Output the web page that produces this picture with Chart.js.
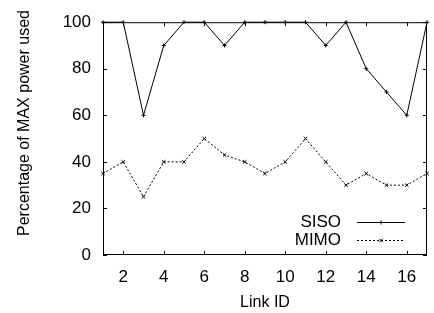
<!DOCTYPE html>
<html>
<head>
<meta charset="utf-8">
<script src="https://cdn.jsdelivr.net/npm/chart.js@4/dist/chart.umd.min.js"></script>
<style>
  html, body { margin: 0; padding: 0; background: #fff; }
  #wrap { width: 434px; height: 313px; }
</style>
</head>
<body>
<div id="wrap"><canvas id="chart" width="434" height="313"></canvas></div>
<script>
// link ids 1..17
const linkIds = [1, 2, 3, 4, 5, 6, 7, 8, 9, 10, 11, 12, 13, 14, 15, 16, 17];
const sisoValues = [100, 100, 60, 90, 100, 100, 90, 100, 100, 100, 100, 90, 100, 80, 70, 60, 100];
const mimoValues = [35, 40, 25, 40, 40, 50, 43, 40, 35, 40, 50, 40, 30, 35, 30, 30, 35];
const xTickLabels = [2, 4, 6, 8, 10, 12, 14, 16];
const yTickLabels = [0, 20, 40, 60, 80, 100];

const FONT = 'Liberation Sans, Arial, sans-serif';

// gnuplot style frame: box + ticks pointing inward on all sides
const frameTicks = {
  id: 'frameTicks',
  afterDraw(chart) {
    const { ctx, chartArea: a, scales: { x, y } } = chart;
    const len = 4;
    ctx.save();
    ctx.strokeStyle = '#000';
    ctx.lineWidth = 1;
    ctx.strokeRect(a.left + 0.5, a.top + 0.5, a.right - a.left - 1, a.bottom - a.top - 1);
    ctx.beginPath();
    xTickLabels.forEach(v => {
      const px = Math.round(x.getPixelForValue(v)) + 0.5;
      ctx.moveTo(px, a.bottom); ctx.lineTo(px, a.bottom - len);
      ctx.moveTo(px, a.top); ctx.lineTo(px, a.top + len);
    });
    yTickLabels.forEach(v => {
      const py = Math.round(y.getPixelForValue(v)) + 0.5;
      ctx.moveTo(a.left, py); ctx.lineTo(a.left + len, py);
      ctx.moveTo(a.right, py); ctx.lineTo(a.right - len, py);
    });
    ctx.stroke();

    // y axis title, sits a bit above the middle of the axis like in gnuplot
    ctx.font = '16px ' + FONT;
    ctx.fillStyle = '#000';
    ctx.textAlign = 'center';
    ctx.textBaseline = 'middle';
    ctx.translate(25, 123);
    ctx.rotate(-Math.PI / 2);
    ctx.fillText('Percentage of MAX power used', 0, 0);
    ctx.restore();
  }
};

// legend in the lower right, text on the left of the sample line
const keyBox = {
  id: 'keyBox',
  afterDraw(chart) {
    const { ctx } = chart;
    const rows = [
      { label: 'SISO', y: 222.5, dash: [], ds: 0 },
      { label: 'MIMO', y: 240.5, dash: [2, 2], ds: 1 }
    ];
    ctx.save();
    ctx.font = '17px ' + FONT;
    ctx.fillStyle = '#000';
    ctx.textAlign = 'right';
    ctx.textBaseline = 'middle';
    rows.forEach(r => {
      ctx.fillText(r.label, 341, r.y);
      ctx.strokeStyle = '#000';
      ctx.lineWidth = 1;
      ctx.setLineDash(r.dash);
      ctx.beginPath();
      ctx.moveTo(357, r.y);
      ctx.lineTo(405, r.y);
      ctx.stroke();
      ctx.setLineDash([]);
      const d = chart.data.datasets[r.ds];
      Chart.helpers.drawPoint(ctx, {
        pointStyle: d.pointStyle, radius: d.pointRadius, borderWidth: 1
      }, 381, r.y);
    });
    ctx.restore();
  }
};

new Chart(document.getElementById('chart'), {
  type: 'line',
  data: {
    labels: linkIds,
    datasets: [
      {
        label: 'SISO',
        data: linkIds.map((id, i) => ({ x: id, y: sisoValues[i] })),
        borderColor: '#000',
        backgroundColor: '#000',
        borderWidth: 1,
        pointStyle: 'cross',
        pointRadius: 2,
        pointBorderWidth: 1,
        tension: 0,
        clip: false
      },
      {
        label: 'MIMO',
        data: linkIds.map((id, i) => ({ x: id, y: mimoValues[i] })),
        borderColor: '#000',
        backgroundColor: '#000',
        borderWidth: 1,
        borderDash: [2, 2],
        pointStyle: 'crossRot',
        pointRadius: 2.5,
        pointBorderWidth: 1,
        tension: 0,
        clip: false
      }
    ]
  },
  options: {
    responsive: false,
    animation: false,
    layout: { padding: { top: 18, right: 7, left: 0, bottom: 0 } },
    plugins: {
      legend: { display: false },
      tooltip: { enabled: false }
    },
    scales: {
      x: {
        type: 'linear',
        min: 1,
        max: 17,
        grid: { display: false, drawTicks: false },
        border: { display: false },
        afterBuildTicks(scale) { scale.ticks = xTickLabels.map(v => ({ value: v })); },
        afterFit(scale) { scale.height = 58; },
        ticks: {
          color: '#000', padding: 12, maxRotation: 0, autoSkip: false,
          font: { family: FONT, size: 17 }
        },
        title: {
          display: true, text: 'Link ID', color: '#000',
          font: { family: FONT, size: 16 }, padding: { top: 0, bottom: 1 }
        }
      },
      y: {
        min: 0,
        max: 100,
        grid: { display: false, drawTicks: false },
        border: { display: false },
        afterBuildTicks(scale) { scale.ticks = yTickLabels.map(v => ({ value: v })); },
        afterFit(scale) { scale.width = 103; },
        ticks: {
          color: '#000', padding: 12,
          font: { family: FONT, size: 17 }
        },
        title: { display: false }
      }
    }
  },
  plugins: [frameTicks, keyBox]
});
</script>
</body>
</html>
